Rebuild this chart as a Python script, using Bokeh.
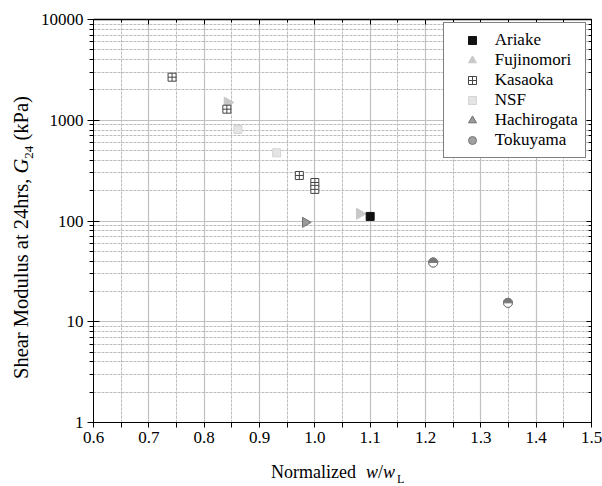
import math
from bokeh.plotting import figure
from bokeh.layouts import row, column
from bokeh.models import (FixedTicker, LinearAxis, LogAxis, Legend, LegendItem, Div,
                          PrintfTickFormatter, CustomJSTickFormatter, Range1d)
from bokeh.embed import file_html
from bokeh.resources import INLINE

# ---- data ----
ariake_x = [1.100]
ariake_y = [111]
fujinomori_x = [0.842, 1.081]
fujinomori_y = [1500, 118]
kasaoka_x = [0.742, 0.841, 0.972, 1.000, 1.000]
kasaoka_y = [2675, 1288, 283, 241, 206]
nsf_x = [0.861, 0.931]
nsf_y = [809, 475]
hachirogata_x = [0.983]
hachirogata_y = [97]
tokuyama_x = [1.214, 1.349]
tokuyama_y = [38.7, 15.4]

x_ticks = [0.6, 0.7, 0.8, 0.9, 1.0, 1.1, 1.2, 1.3, 1.4, 1.5]
x_minor = [0.65, 0.75, 0.85, 0.95, 1.05, 1.15, 1.25, 1.35, 1.45]
y_ticks = [1, 10, 100, 1000, 10000]
y_minor = [m * d for d in [1, 10, 100, 1000] for m in range(2, 10)]

x_title_html = ("Normalized<i style='margin-left:10px'>w</i>/<i>w</i>"
                "<sub style='font-size:12px;line-height:0;margin-left:2px'>L</sub>")
y_title_html = ("Shear Modulus at 24hrs, <i>G</i>"
                "<sub style='font-size:13px;line-height:0'>24</sub> (kPa)")

FONT = "Liberation Serif"
YDIV_W = 36

p = figure(width=602 - YDIV_W, height=456, x_range=Range1d(0.6, 1.5), y_range=Range1d(1, 10000),
           y_axis_type="log", output_backend="svg", toolbar_location=None,
           min_border_left=93 - YDIV_W, min_border_right=11, min_border_top=19,
           min_border_bottom=34)
p.outline_line_color = "black"
p.outline_line_width = 1
p.background_fill_color = "white"

xt = FixedTicker(ticks=x_ticks, minor_ticks=x_minor)
yt = FixedTicker(ticks=y_ticks, minor_ticks=y_minor)

for ax in p.xaxis:
    ax.ticker = xt
    ax.formatter = PrintfTickFormatter(format="%.1f")
    ax.major_tick_in = 0
    ax.major_tick_out = 5
    ax.minor_tick_in = 0
    ax.minor_tick_out = 5
    ax.major_label_standoff = 4
for ax in p.yaxis:
    ax.ticker = yt
    ax.formatter = PrintfTickFormatter(format="%d")
    ax.major_tick_in = 6
    ax.major_tick_out = 6
    ax.minor_tick_in = 0
    ax.minor_tick_out = 4
    ax.major_label_standoff = 4
for ax in list(p.xaxis) + list(p.yaxis):
    ax.axis_line_color = "black"
    ax.major_tick_line_color = "black"
    ax.minor_tick_line_color = "black"
    ax.major_label_text_font = FONT
    ax.major_label_text_font_size = "17px"
    ax.major_label_text_color = "black"

blank = CustomJSTickFormatter(code="return ''")
top = LinearAxis(ticker=xt, formatter=blank, major_tick_in=5, major_tick_out=0,
                 minor_tick_in=3, minor_tick_out=0, major_label_standoff=0,
                 major_label_text_font_size="0px", axis_line_color="black",
                 axis_line_width=1.6)
right = LogAxis(ticker=yt, formatter=blank, major_tick_in=5, major_tick_out=0,
                minor_tick_in=3, minor_tick_out=0, major_label_standoff=0,
                major_label_text_font_size="0px", axis_line_color="black")
p.add_layout(top, "above")
p.add_layout(right, "right")

p.xgrid.ticker = xt
p.ygrid.ticker = yt
for g in (p.xgrid, p.ygrid):
    g.grid_line_color = "#c0c0c0"
    g.grid_line_width = 1.2
    g.minor_grid_line_color = "#bcbcbc"
    g.minor_grid_line_dash = "3 1"
    g.minor_grid_line_width = 1

# ---- glyphs ----
r_fuji = p.scatter(fujinomori_x, fujinomori_y, marker="triangle", angle=-math.pi / 2,
                   size=11, fill_color="#c8c8c8", line_color="#c8c8c8")
r_kas = p.scatter(kasaoka_x, kasaoka_y, marker="square_cross", size=8,
                  fill_color="white", line_color="#444444", line_width=1)
r_nsf = p.scatter(nsf_x, nsf_y, marker="square", size=8,
                  fill_color="#e4e4e4", line_color="#d4d4d4")
r_hach = p.scatter(hachirogata_x, hachirogata_y, marker="triangle", angle=-math.pi / 2,
                   size=10, fill_color="#9a9a9a", line_color="#707070")
r_toku_leg = p.scatter(tokuyama_x, tokuyama_y, marker="circle", size=9,
                       fill_color="#a0a0a0", line_color="#777777")
p.scatter(tokuyama_x, tokuyama_y, marker="circle", size=9,
          fill_color="white", line_color="#777777")
p.wedge(tokuyama_x, tokuyama_y, radius=4.5, radius_units="screen",
        start_angle=0, end_angle=math.pi, fill_color="#777777", line_color="#777777")
r_ari = p.scatter(ariake_x, ariake_y, marker="square", size=8,
                  fill_color="#111111", line_color="#111111")

legend = Legend(items=[
    LegendItem(label="Ariake", renderers=[r_ari]),
    LegendItem(label="Fujinomori", renderers=[r_fuji]),
    LegendItem(label="Kasaoka", renderers=[r_kas]),
    LegendItem(label="NSF", renderers=[r_nsf]),
    LegendItem(label="Hachirogata", renderers=[r_hach]),
    LegendItem(label="Tokuyama", renderers=[r_toku_leg]),
], location=(349.7, 263.7))
legend.border_line_color = "black"
legend.border_line_width = 1
legend.background_fill_color = "white"
legend.background_fill_alpha = 1
legend.padding = 7
legend.spacing = 0
legend.margin = 0
legend.glyph_width = 42
legend.glyph_height = 20
legend.label_height = 20
legend.label_width = 80
legend.label_standoff = 2
legend.label_text_font = FONT
legend.label_text_font_size = "17px"
legend.label_text_color = "black"
p.add_layout(legend)

# ---- axis titles (mixed italic / subscript) as HTML text ----
ydiv = Div(width=YDIV_W, height=486, margin=0, text=(
    "<div style=\"position:relative;width:%dpx;height:486px;\">"
    "<div style=\"position:absolute;left:11px;top:379px;transform:rotate(-90deg);"
    "transform-origin:0 0;white-space:nowrap;font-family:'Liberation Serif';"
    "font-size:20.5px;line-height:1;color:black;\">%s</div></div>" % (YDIV_W, y_title_html)))
xdiv = Div(width=602 - YDIV_W, height=30, margin=0, text=(
    "<div style=\"position:relative;width:%dpx;height:30px;\">"
    "<div style=\"position:absolute;left:%dpx;top:7px;white-space:nowrap;"
    "font-family:'Liberation Serif';font-size:18px;line-height:1;color:black;\">%s</div></div>"
    % (602 - YDIV_W, 271 - YDIV_W, x_title_html)))

layout = row(ydiv, column(p, xdiv, spacing=0), spacing=0)

open("out.html", "w").write(file_html(layout, INLINE))
